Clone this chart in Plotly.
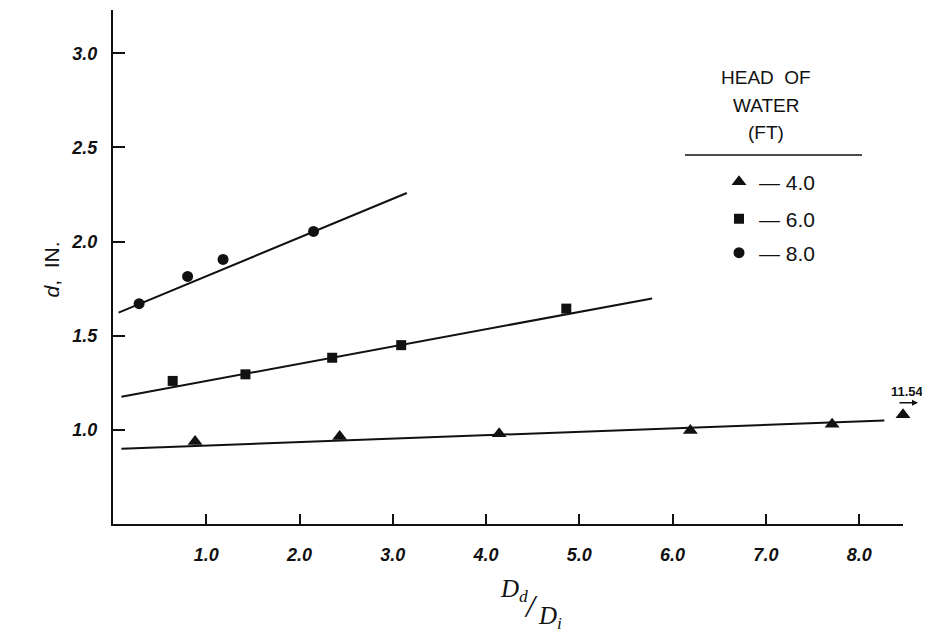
import plotly.graph_objects as go

# ---- data ----
head_labels = ["— 4.0", "— 6.0", "— 8.0"]

x_4 = [0.88, 2.43, 4.14, 6.19, 7.71, 8.47]
y_4 = [0.938, 0.965, 0.98, 0.996, 1.03, 1.08]
x_6 = [0.64, 1.42, 2.35, 3.09, 4.86]
y_6 = [1.26, 1.295, 1.383, 1.45, 1.644]
x_8 = [0.28, 0.80, 1.18, 2.15]
y_8 = [1.67, 1.815, 1.905, 2.054]

fit_x_4 = [0.09, 8.27]
fit_y_4 = [0.90, 1.05]
fit_x_6 = [0.09, 5.78]
fit_y_6 = [1.176, 1.698]
fit_x_8 = [0.06, 3.15]
fit_y_8 = [1.623, 2.258]

off_scale_label = "11.54"

x_ticks = [1, 2, 3, 4, 5, 6, 7, 8]
x_tick_text = ["1.0", "2.0", "3.0", "4.0", "5.0", "6.0", "7.0", "8.0"]
y_ticks = [1.0, 1.5, 2.0, 2.5, 3.0]
y_tick_text = ["1.0", "1.5", "2.0", "2.5", "3.0"]

# ---- figure ----
# page body has an 8px margin; all layout positions below are screen pixels
OFF = 8
W, H = 930 - OFF, 635 - OFF
plot_left, plot_right, plot_top, plot_bottom = 113, 903, 10, 524
L = plot_left - OFF
T = plot_top - OFF
R = W - (plot_right - OFF)
B = H - (plot_bottom - OFF)
pw, ph = plot_right - plot_left, plot_bottom - plot_top


def px(xs):
    return (xs - plot_left) / pw


def py(ys):
    return (plot_bottom - ys) / ph


fig = go.Figure()
ink = "#111111"
line_style = dict(color=ink, width=2)

for fx, fy in [(fit_x_4, fit_y_4), (fit_x_6, fit_y_6), (fit_x_8, fit_y_8)]:
    fig.add_trace(go.Scatter(x=fx, y=fy, mode="lines", line=line_style,
                             showlegend=False, hoverinfo="skip", cliponaxis=False))

series = [
    (x_4, y_4, "triangle-up", 13, head_labels[0], "legend", 182),
    (x_6, y_6, "square", 10, head_labels[1], "legend2", 219),
    (x_8, y_8, "circle", 11, head_labels[2], "legend3", 253),
]
legend_font = dict(family="Liberation Sans, Arial", size=21, color=ink)
legends = {}
for sx, sy, sym, sz, name, lg, ly in series:
    fig.add_trace(go.Scatter(x=sx, y=sy, mode="markers", name=name, legend=lg,
                             marker=dict(symbol=sym, size=sz, color=ink),
                             cliponaxis=False))
    legends[lg] = dict(x=px(719), y=py(ly), xanchor="left", yanchor="middle",
                       font=legend_font, bgcolor="rgba(0,0,0,0)", itemwidth=30)

tick_font = dict(family="Liberation Sans, Arial", size=18, color=ink,
                 weight="bold", style="italic")

fig.update_xaxes(range=[0, 8.47], showline=True, linecolor=ink, linewidth=2,
                 ticks="inside", ticklen=10, tickwidth=1.5, tickcolor=ink,
                 tickvals=x_ticks, ticktext=x_tick_text, tickfont=tick_font,
                 showgrid=False, zeroline=False, ticklabelstandoff=13)
fig.update_yaxes(range=[0.5, 3.23], showline=True, linecolor=ink, linewidth=2,
                 ticks="inside", ticklen=12, tickwidth=1.5, tickcolor=ink,
                 tickvals=y_ticks, ticktext=y_tick_text, tickfont=tick_font,
                 showgrid=False, zeroline=False, ticklabelstandoff=10)

ann = []
hdr_font = dict(family="Liberation Sans, Arial", size=19, color=ink)
for txt, yy in [("HEAD  OF", 78), ("WATER", 105), ("(FT)", 132)]:
    ann.append(dict(text=txt, x=px(766), y=py(yy), xref="paper", yref="paper",
                    showarrow=False, font=hdr_font, xanchor="center", yanchor="middle"))

# y-axis title
ann.append(dict(text="<i>d</i>,  IN.", x=px(37), y=py(270), xref="paper", yref="paper",
                showarrow=False, textangle=-90,
                font=dict(family="Liberation Sans, Arial", size=21, color=ink)))

# x-axis title (stacked ratio look)
serif = dict(family="Liberation Serif, Times New Roman", size=25, color=ink, style="italic")
ann.append(dict(text="D<sub>d</sub>", x=px(514), y=py(590), xref="paper", yref="paper",
                showarrow=False, font=serif, yanchor="middle"))
ann.append(dict(text="/", x=px(531), y=py(606), xref="paper", yref="paper",
                showarrow=False, yanchor="middle",
                font=dict(family="Liberation Serif", size=32, color=ink, style="italic")))
ann.append(dict(text="D<sub>i</sub>", x=px(550), y=py(617), xref="paper", yref="paper",
                showarrow=False, font=serif, yanchor="middle"))

# off-scale value label with arrow
ann.append(dict(text=off_scale_label, x=x_4[-1], y=y_4[-1], xref="x", yref="y",
                showarrow=False, yshift=23, xshift=4,
                font=dict(family="Liberation Sans, Arial", size=13, color=ink, weight="bold")))
ann.append(dict(x=x_4[-1], y=y_4[-1], xref="x", yref="y", ax=-20, ay=0,
                xshift=15, yshift=12, text="", showarrow=True, arrowhead=2,
                arrowsize=0.8, arrowwidth=1.5, arrowcolor=ink))

fig.update_layout(
    width=W, height=H,
    margin=dict(l=L, r=R, t=T, b=B),
    plot_bgcolor="white", paper_bgcolor="white",
    annotations=ann,
    shapes=[dict(type="line", xref="paper", yref="paper",
                 x0=px(685), x1=px(862), y0=py(155), y1=py(155),
                 line=dict(color=ink, width=1.5))],
    showlegend=True,
    **legends,
)

fig.write_html("out.html")
